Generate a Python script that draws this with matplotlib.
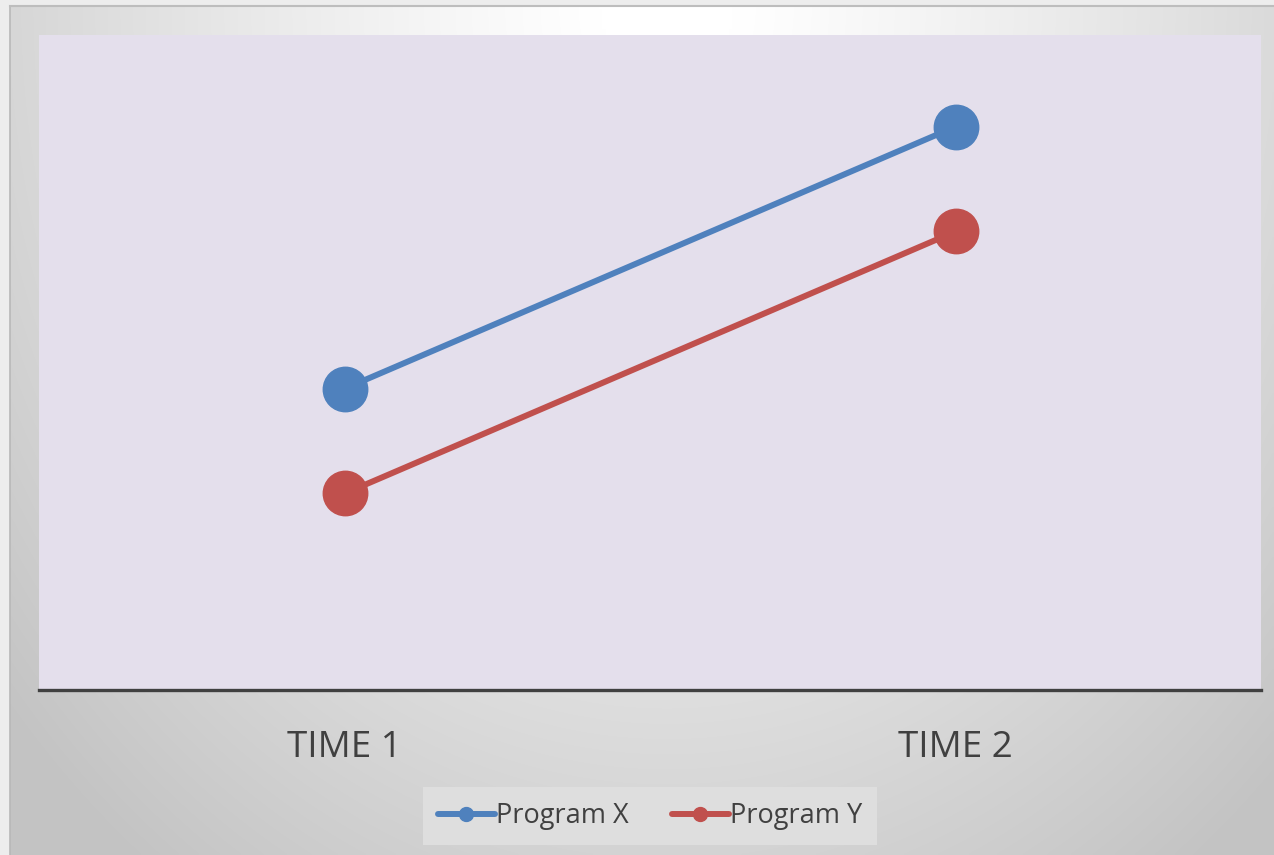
import numpy as np
import matplotlib
matplotlib.use("Agg")
import matplotlib.pyplot as plt

categories = ["TIME 1", "TIME 2"]
program_x = [4.6, 8.6]
program_y = [3.0, 7.0]
series_names = ["Program X", "Program Y"]
colors = ["#4f81bd", "#c0504d"]

W, H, DPI = 1274, 855, 100
fig = plt.figure(figsize=(W / DPI, H / DPI), dpi=DPI)
fig.patch.set_facecolor("#ededed")

# chart frame with a soft radial grey gradient, brightest at top centre
bg = fig.add_axes([10 / W, 0, 1 - 10 / W, 1 - 6 / H], zorder=0)
yy, xx = np.mgrid[0:1:300j, 0:1:400j]
r = np.sqrt(((xx - 0.52) / 0.52) ** 2 + (yy / 0.95) ** 2)
grad = np.clip(1.01 - 0.17 * r ** 1.25, 0.765, 1.0)
bg.imshow(np.dstack([grad] * 3), aspect="auto", extent=(0, 1, 1, 0),
          interpolation="bilinear")
bg.set_xlim(0, 1)
bg.set_ylim(1, 0)
bg.axis("off")
fig.add_artist(plt.Line2D([9.5 / W, 9.5 / W], [0, 1 - 6 / H], color="#b8b8b8",
                          lw=1.2, transform=fig.transFigure, zorder=1))
fig.add_artist(plt.Line2D([9.5 / W, 1], [1 - 6.5 / H, 1 - 6.5 / H], color="#bdbdbd",
                          lw=1.5, transform=fig.transFigure, zorder=1))

ax = fig.add_axes([39 / W, (H - 690) / H, (1261 - 39) / W, (690 - 35) / H], zorder=2)
ax.set_facecolor("#e4dfec")

xpos = np.arange(len(categories))
for vals, name, c in zip([program_x, program_y], series_names, colors):
    ax.plot(xpos, vals, color=c, lw=4.3, marker="o", markersize=32,
            solid_capstyle="butt", label=name)

ax.set_xlim(-0.5, 1.5)
ax.set_ylim(0, 10)
ax.set_yticks([])
for s in ["left", "right", "top"]:
    ax.spines[s].set_visible(False)
ax.spines["bottom"].set_color("#404040")
ax.spines["bottom"].set_linewidth(2.4)
ax.set_xticks(xpos)
ax.set_xticklabels(categories, fontsize=26.5, color="#404040", family="Open Sans")
ax.tick_params(axis="x", length=0, pad=29)

handles = [plt.Line2D([], [], color=c, lw=4.3, marker="o", markersize=10,
                      solid_capstyle="round") for c in colors]
leg = fig.legend(handles, series_names, loc="center",
                 bbox_to_anchor=(650 / W, 1 - 816 / H), ncol=2, frameon=True,
                 prop={"family": "Open Sans", "size": 19.5}, labelcolor="#404040",
                 handlelength=2.1, handletextpad=0.05, columnspacing=1.6,
                 borderpad=0.55, borderaxespad=0, fancybox=False)
leg.get_frame().set_facecolor("#dedede")
leg.get_frame().set_edgecolor("none")
leg.get_frame().set_alpha(1)

fig.savefig("out.png", dpi=DPI)
